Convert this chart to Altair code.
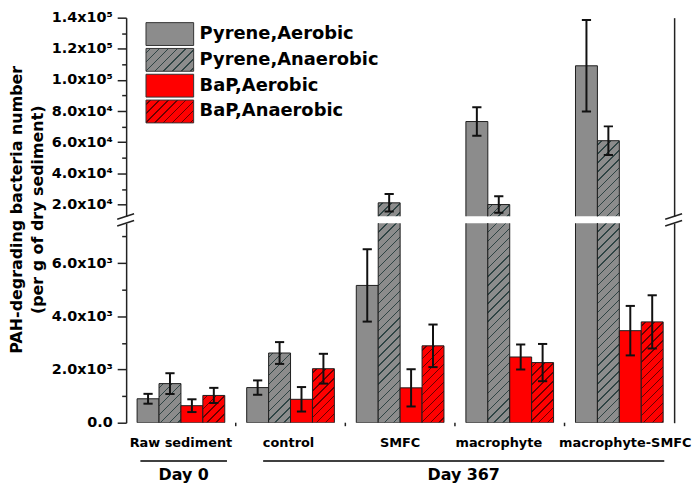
import altair as alt

# ---------------- data ----------------
categories = ["Raw sediment", "control", "SMFC", "macrophyte", "macrophyte-SMFC"]
series_names = ["Pyrene,Aerobic", "Pyrene,Anaerobic", "BaP,Aerobic", "BaP,Anaerobic"]

pyrene_aerobic = [900, 1320, 5160, 73300, 109100]
pyrene_aerobic_err = [185, 270, 1360, 9200, 29400]
pyrene_anaerobic = [1470, 2620, 21100, 20000, 61000]
pyrene_anaerobic_err = [390, 410, 5600, 5300, 9200]
bap_aerobic = [640, 880, 1310, 2470, 3460]
bap_aerobic_err = [240, 460, 700, 470, 930]
bap_anaerobic = [1025, 2030, 2890, 2260, 3790]
bap_anaerobic_err = [285, 560, 800, 700, 1000]

day_labels = ["Day 0", "Day 367"]
day_span_start = [0.63, 1.75]   # in category-axis units
day_span_end = [1.42, 5.41]

upper_major = [20000, 40000, 60000, 80000, 100000, 120000, 140000]
upper_major_labels = ["2.0x10⁴", "4.0x10⁴", "6.0x10⁴", "8.0x10⁴", "1.0x10⁵", "1.2x10⁵", "1.4x10⁵"]
upper_minor = [30000, 50000, 70000, 90000, 110000, 130000]
lower_major = [0, 2000, 4000, 6000]
lower_major_labels = ["0.0", "2.0x10³", "4.0x10³", "6.0x10³"]
lower_minor = [1000, 3000, 5000, 7000]
x_minor = [1.5, 2.5, 3.5, 4.5]

lower_domain = [0, 7500]
upper_domain = [12500, 140000]

# ---------------- style ----------------
W = 552
H_UP = 200
H_LO = 201
GAP = 7
GROUP = 0.8
BAR = 0.2
CAP = 0.042
FONT = "DejaVu Sans"
GRAY = "#8c8c8c"
RED = "#ff0000"
series_fill = [GRAY, GRAY, RED, RED]
series_hatch = [None, "#2f4444", None, "#6a0000"]
HATCH_PERIOD = 9.0
EDGE = "#1e1e1e"
label_nudge_px = [0, -2, 0, -11, 6]   # keeps the two long labels apart, as in the original


def hatch(w, h, bg, line, period=HATCH_PERIOD, half=0.7):
    L = w + h
    a = w * L / (w * w + h * h)
    b = h * L / (w * w + h * h)
    stops = [{"offset": 0, "color": bg}]
    s = period / 2.0
    while s - half < L:
        o0 = max(0.0, (s - half) / L)
        o1 = min(1.0, (s + half) / L)
        stops += [{"offset": o0, "color": bg}, {"offset": o0, "color": line},
                  {"offset": o1, "color": line}, {"offset": o1, "color": bg}]
        s += period
    stops.append({"offset": 1, "color": bg})
    return {"gradient": "linear", "x1": 0, "y1": 0, "x2": a, "y2": b, "stops": stops}


values = [pyrene_aerobic, pyrene_anaerobic, bap_aerobic, bap_anaerobic]
errors = [pyrene_aerobic_err, pyrene_anaerobic_err, bap_aerobic_err, bap_anaerobic_err]
px_per_unit = W / len(categories)
bar_px = BAR * px_per_unit
lo_span = lower_domain[1] - lower_domain[0]
up_span = upper_domain[1] - upper_domain[0]

lo_bars, up_bars, lo_err, up_err, lo_caps, up_caps = [], [], [], [], [], []
for j, name in enumerate(series_names):
    for i, cat in enumerate(categories):
        v = values[j][i]
        e = errors[j][i]
        x0 = (i + 1) - GROUP / 2 + BAR * j
        xc = x0 + BAR / 2
        base = {"series": name, "cat": cat, "x0": x0, "x1": x0 + BAR, "xc": xc,
                "cl": xc - CAP, "cr": xc + CAP, "v": v, "lo": v - e, "hi": v + e}
        top_lo = min(v, lower_domain[1] + 500)
        h_lo = top_lo / lo_span * H_LO
        paint = hatch(bar_px, h_lo, series_fill[j], series_hatch[j]) if series_hatch[j] else series_fill[j]
        lo_bars.append({**base, "b": 0, "t": top_lo, "paint": paint})
        if v > upper_domain[0]:
            b_up = upper_domain[0] - 2500
            h_up = (v - b_up) / up_span * H_UP
            paint = hatch(bar_px, h_up, series_fill[j], series_hatch[j]) if series_hatch[j] else series_fill[j]
            up_bars.append({**base, "b": b_up, "t": v, "paint": paint})
        if v <= lower_domain[1]:
            lo_err.append(base)
            lo_caps += [{**base, "cy": v - e}, {**base, "cy": v + e}]
        if v >= upper_domain[0]:
            up_err.append(base)
            up_caps += [{**base, "cy": v - e}, {**base, "cy": v + e}]

legend_rows = []
for k, name in enumerate(series_names):
    paint = hatch(48, 23, series_fill[k], series_hatch[k]) if series_hatch[k] else series_fill[k]
    legend_rows.append({"name": name, "bx0": 20, "bx1": 68, "by0": 5 + 26 * k, "by1": 28 + 26 * k,
                        "tx": 74, "ty": 16.5 + 26 * k, "paint": paint})

yc = H_UP + GAP / 2.0
break_rows = []
for xa in [0, W]:
    for dy in [-3.2, 3.6]:
        break_rows.append({"sx0": xa - 9, "sx1": xa + 8, "sy0": yc + dy + 2.8, "sy1": yc + dy - 2.8})

day_rows = [{"day": d, "d0": s, "d1": e, "dm": (s + e) / 2}
            for d, s, e in zip(day_labels, day_span_start, day_span_end)]
cat_rows = [{"pos": i + 1, "lx": i + 1 + label_nudge_px[i] / px_per_unit, "cat": c}
            for i, c in enumerate(categories)]
minor_rows = [{"pos": p} for p in x_minor]

# ---------------- scales & axes ----------------
xscale = alt.Scale(domain=[0.5, len(categories) + 0.5], nice=False, zero=False)
yscale_up = alt.Scale(domain=upper_domain, nice=False, zero=False)
yscale_lo = alt.Scale(domain=lower_domain, nice=False, zero=False)


def label_expr(ticks, labels):
    return " : ".join(f"datum.value == {t} ? '{l}'" for t, l in zip(ticks, labels)) + " : ''"


def y_axis(major, labels, minor, **kw):
    test = "indexof([" + ",".join(str(m) for m in major) + "], datum.value) >= 0"
    return alt.Axis(orient="left", values=sorted(major + minor), labelExpr=label_expr(major, labels),
                    tickSize={"condition": {"test": test, "value": 9}, "value": 4.5},
                    labelPadding=5, labelFontSize=14.5, grid=False, labelOverlap=False,
                    labelFlush=False, **kw)


right_axis = alt.Axis(orient="right", labels=False, ticks=False, title=None, grid=False)

x_axis = alt.Axis(orient="bottom", values=[c["pos"] for c in cat_rows], labels=False,
                  tickSize=6, grid=False, title=None)
top_axis = alt.Axis(orient="top", labels=False, ticks=False, title=None, grid=False)

# ---------------- upper panel ----------------
bars_up = alt.Chart(alt.Data(values=up_bars)).mark_bar(clip=True, stroke=EDGE, strokeWidth=1).encode(
    x=alt.X("x0:Q", scale=xscale, axis=top_axis),
    x2="x1:Q",
    y=alt.Y("t:Q", scale=yscale_up, axis=y_axis(upper_major, upper_major_labels, upper_minor, title=None)),
    y2="b:Q",
    fill=alt.Fill("paint:N", scale=None),
)
err_up = alt.Chart(alt.Data(values=up_err)).mark_rule(color="#111", strokeWidth=2, clip=True).encode(
    x=alt.X("xc:Q", scale=xscale, axis=None),
    y=alt.Y("lo:Q", scale=yscale_up, axis=right_axis),
    y2="hi:Q",
)
caps_up = alt.Chart(alt.Data(values=up_caps)).mark_rule(color="#111", strokeWidth=2, clip=True).encode(
    x=alt.X("cl:Q", scale=xscale, axis=None), x2="cr:Q",
    y=alt.Y("cy:Q", scale=yscale_up, axis=None),
)
leg_box = alt.Chart(alt.Data(values=legend_rows)).mark_rect(stroke="#333", strokeWidth=1).encode(
    x=alt.X("bx0:Q", scale=None), x2="bx1:Q",
    y=alt.Y("by0:Q", scale=None), y2="by1:Q",
    fill=alt.Fill("paint:N", scale=None),
)
leg_text = alt.Chart(alt.Data(values=legend_rows)).mark_text(
    align="left", baseline="middle", fontSize=18, fontWeight="bold", font=FONT, color="black").encode(
    x=alt.X("tx:Q", scale=None), y=alt.Y("ty:Q", scale=None), text="name:N")
breaks = alt.Chart(alt.Data(values=break_rows)).mark_rule(color="#222", strokeWidth=1.5).encode(
    x=alt.X("sx0:Q", scale=None), x2="sx1:Q",
    y=alt.Y("sy0:Q", scale=None), y2="sy1:Q",
)
upper = alt.layer(bars_up, err_up, caps_up, leg_box, leg_text, breaks).properties(width=W, height=H_UP)

# ---------------- lower panel ----------------
bars_lo = alt.Chart(alt.Data(values=lo_bars)).mark_bar(clip=True, stroke=EDGE, strokeWidth=1).encode(
    x=alt.X("x0:Q", scale=xscale, axis=x_axis),
    x2="x1:Q",
    y=alt.Y("t:Q", scale=yscale_lo, axis=y_axis(
        lower_major, lower_major_labels, lower_minor,
        title=["PAH-degrading bacteria number", "(per g of dry sediment)"],
        titleFontSize=16, titleFontWeight="bold", titleFont=FONT, titleColor="black",
        titleLineHeight=21, titlePadding=6, titleY=-14)),
    y2="b:Q",
    fill=alt.Fill("paint:N", scale=None),
)
err_lo = alt.Chart(alt.Data(values=lo_err)).mark_rule(color="#111", strokeWidth=2).encode(
    x=alt.X("xc:Q", scale=xscale, axis=None),
    y=alt.Y("lo:Q", scale=yscale_lo, axis=right_axis),
    y2="hi:Q",
)
caps_lo = alt.Chart(alt.Data(values=lo_caps)).mark_rule(color="#111", strokeWidth=2).encode(
    x=alt.X("cl:Q", scale=xscale, axis=None), x2="cr:Q",
    y=alt.Y("cy:Q", scale=yscale_lo, axis=None),
)
minor_ticks = alt.Chart(alt.Data(values=minor_rows)).mark_rule(color="#222", strokeWidth=1.5).encode(
    x=alt.X("pos:Q", scale=xscale, axis=None), y=alt.value(H_LO), y2=alt.value(H_LO + 3.5))
cat_text = alt.Chart(alt.Data(values=cat_rows)).mark_text(
    fontSize=13, fontWeight="bold", font=FONT, color="black", baseline="top").encode(
    x=alt.X("lx:Q", scale=xscale, axis=None), y=alt.value(H_LO + 14), text="cat:N")
day_line = alt.Chart(alt.Data(values=day_rows)).mark_rule(color="black", strokeWidth=1.5).encode(
    x=alt.X("d0:Q", scale=xscale, axis=None), x2="d1:Q", y=alt.value(H_LO + 38.5))
day_text = alt.Chart(alt.Data(values=day_rows)).mark_text(
    fontSize=16, fontWeight="bold", font=FONT, color="black", baseline="middle").encode(
    x=alt.X("dm:Q", scale=xscale, axis=None), y=alt.value(H_LO + 52.5), text="day:N")
lower = alt.layer(bars_lo, err_lo, caps_lo, minor_ticks, cat_text, day_line, day_text).properties(
    width=W, height=H_LO)

chart = alt.vconcat(upper, lower, spacing=GAP, bounds="flush").properties(
    padding={"left": 0, "top": 0, "right": 0, "bottom": 0}
).configure(font=FONT).configure_view(stroke=None).configure_axis(
    domainColor="#222", domainWidth=1.5, tickColor="#222", tickWidth=1.5,
    labelFont=FONT, labelFontWeight="bold", labelColor="black",
)

chart.save("out.html", embed_options={"renderer": "svg", "actions": False})
